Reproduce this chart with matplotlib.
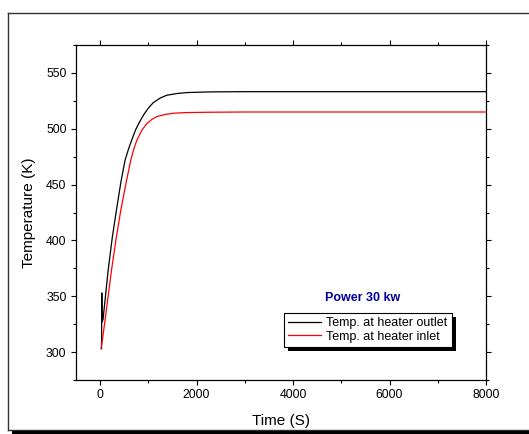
import matplotlib
matplotlib.use("Agg")
import matplotlib.pyplot as plt
from matplotlib.patches import Rectangle
from matplotlib.lines import Line2D
from matplotlib.ticker import MultipleLocator

plt.rcParams['font.family'] = ['Liberation Sans', 'DejaVu Sans']

# Heater outlet temperature (black)
t_outlet = [30, 35, 40, 60, 166, 250, 338, 430, 518, 590, 656, 740, 829, 910, 1000,
            1105, 1250, 1381, 1600, 1800, 2280, 3000, 5000, 8000]
T_outlet = [303, 353, 327, 329, 373, 402, 427, 452, 472, 482, 490, 499.5, 507, 513, 518.5,
            523.5, 527.6, 530, 531.6, 532.4, 533, 533.2, 533.2, 533.2]

# Heater inlet temperature (red)
t_inlet = [20, 60, 104, 235, 330, 428, 540, 636, 700, 760, 870, 967, 1070, 1174,
           1347, 1520, 1800, 2280, 3000, 5000, 8000]
T_inlet = [303, 315, 329, 373, 401, 427, 452, 472, 482, 489.5, 499, 504.5, 508.3, 510.8,
           512.8, 513.9, 514.5, 514.8, 515, 515, 515]

label_outlet = "Temp. at heater outlet"
label_inlet = "Temp. at heater inlet"
annotation = "Power 30 kw"
x_label = "Time (S)"
y_label = "Temperature (K)"

W, H = 529.0, 434.0
fig = plt.figure(figsize=(W / 100, H / 100), dpi=100)
fig.patch.set_facecolor('white')

# outer frame (open at right) with bottom shadow
def fx(px):
    return px / W

def fy(py):
    return 1 - py / H

for xs, ys in [([8, 8], [13, 430]), ([8, 540], [13, 13]), ([8, 540], [430, 430])]:
    fig.add_artist(Line2D([fx(v) for v in xs], [fy(v) for v in ys],
                          transform=fig.transFigure, color='#333333',
                          linewidth=1.0, zorder=0))
fig.add_artist(Line2D([fx(12), fx(540)], [fy(432.5), fy(432.5)],
                      transform=fig.transFigure, color='black',
                      linewidth=3.0, zorder=0, solid_capstyle='butt'))

ax = fig.add_axes([76 / W, 1 - 380 / H, 410 / W, 335 / H])
ax.plot(t_outlet, T_outlet, color='black', linewidth=0.9, label=label_outlet)
ax.plot(t_inlet, T_inlet, color='red', linewidth=0.9, label=label_inlet)

ax.set_xlim(-500, 8000)
ax.set_ylim(275, 575)
ax.xaxis.set_major_locator(MultipleLocator(2000))
ax.xaxis.set_minor_locator(MultipleLocator(1000))
ax.yaxis.set_major_locator(MultipleLocator(50))
ax.yaxis.set_minor_locator(MultipleLocator(25))
ax.tick_params(which='both', direction='out', top=True, right=True,
               labeltop=False, labelright=False, width=0.8, labelsize=8.8,
               color='black')
ax.tick_params(which='major', length=3.8, pad=3)
ax.tick_params(which='minor', length=2.5)
for s in ax.spines.values():
    s.set_linewidth(0.9)

ax.set_xlabel(x_label, fontsize=11)
ax.set_ylabel(y_label, fontsize=11)
ax.xaxis.label.set_va('center')
ax.yaxis.label.set_va('center')
ax.xaxis.set_label_coords(0.5, (380 - 420.7) / 335)
ax.yaxis.set_label_coords((28.5 - 76) / 410, 0.5)

ax.text(0.698, 0.245, annotation, transform=ax.transAxes, color='#0000A0',
        fontsize=9, fontweight='bold', ha='center', va='center')

leg = ax.legend(loc='upper left', bbox_to_anchor=(0.507, 0.2),
                borderaxespad=0, fancybox=False, framealpha=1,
                edgecolor='black', fontsize=9, handlelength=2.6,
                handletextpad=0.45, borderpad=0.35, labelspacing=0.1)
leg.get_frame().set_linewidth(0.8)

fig.canvas.draw()
bb = leg.get_window_extent()
ax.add_patch(Rectangle((bb.x0 + 4, bb.y0 - 4), bb.width, bb.height,
                       transform=None, facecolor='black', edgecolor='none',
                       zorder=leg.get_zorder() - 0.1))

fig.savefig("out.png", dpi=100)
